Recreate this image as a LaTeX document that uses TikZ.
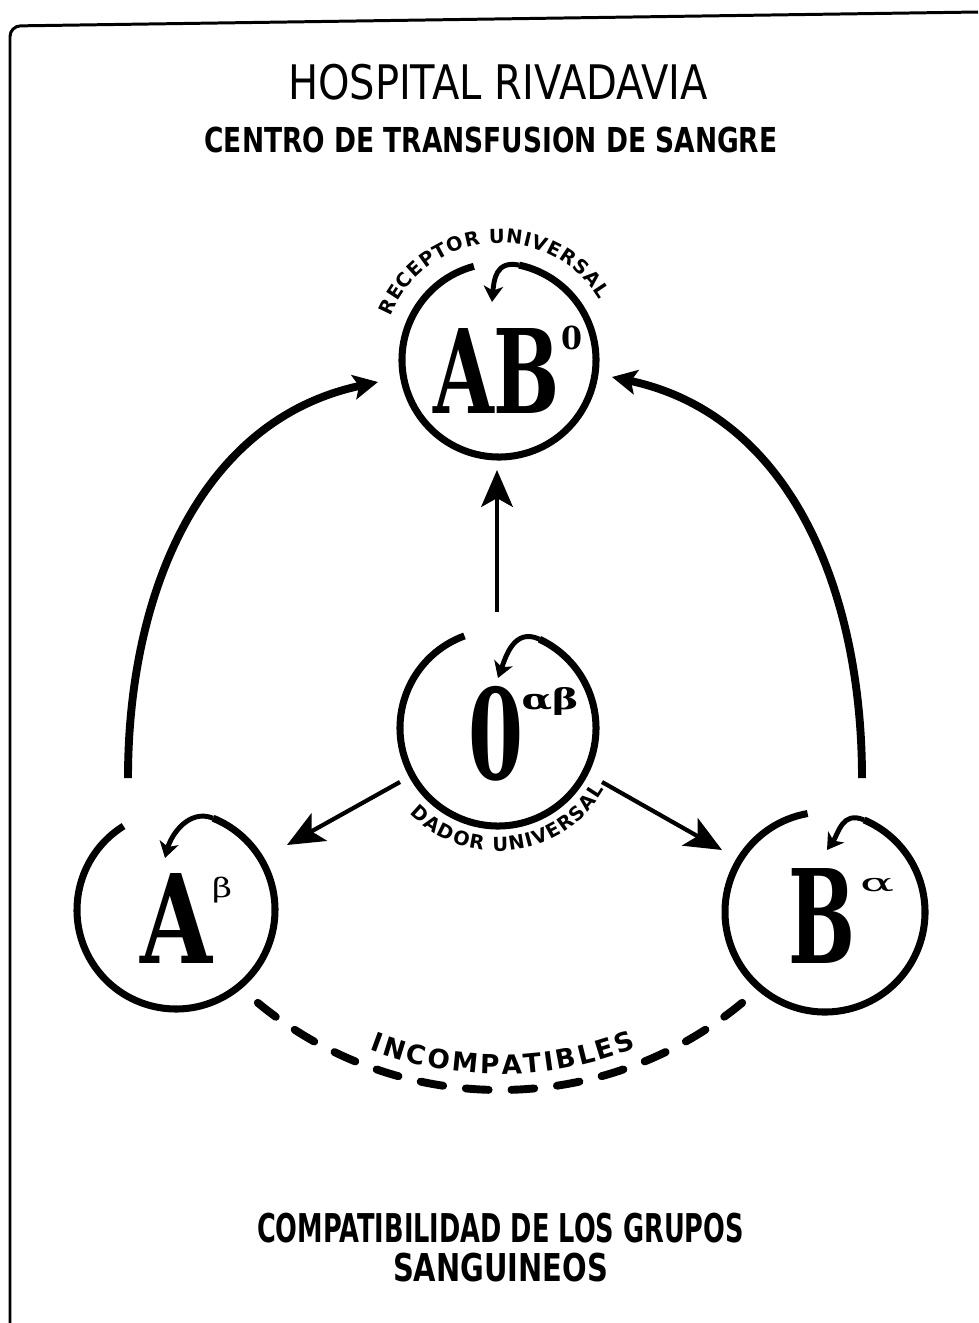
\documentclass[tikz,border=0pt]{standalone}
\usepackage{fontspec}
\usepackage{graphicx}
\usetikzlibrary{arrows.meta,decorations.text,calc}
\newfontfamily\handfont{DejaVu Sans}
\newfontfamily\serfont{DejaVu Serif}
\newcommand{\fitbox}[3]{\resizebox*{#1}{#2}{#3}}
\newcommand{\arcfnt}{\handfont\bfseries\fontsize{11pt}{13pt}\selectfont}
\newcommand{\incfnt}{\handfont\bfseries\fontsize{15pt}{17pt}\selectfont}
\begin{document}
\begin{tikzpicture}[x=0.02cm,y=0.02cm,
  every node/.style={inner sep=0pt,outer sep=0pt},
  ring/.style={line width=4pt},
  curl/.style={line width=2.8pt,-{Stealth[length=9pt,width=11pt,inset=2.5pt]}},
  bigarc/.style={line width=4.5pt,-{Stealth[length=14pt,width=14pt,inset=3pt]}},
  feed/.style={line width=2.4pt,-{Stealth[length=21pt,width=18pt,inset=5pt]}},
  incomp/.style={line width=4.5pt,line cap=round,dash pattern=on 13pt off 13pt},
  frameline/.style={line width=1.7pt,rounded corners=6pt}
]
\useasboundingbox (0,0) rectangle (978,-1323);

% frame
\draw[frameline] (10,-1323) -- (10,-26) -- (978,-12);

% titles
\node (title) at (498,-82) {\fitbox{8.4cm}{0.72cm}{\handfont HOSPITAL RIVADAVIA}};
\node (subtitle) at (491,-140) {\fitbox{11.46cm}{0.52cm}{\handfont\bfseries CENTRO DE TRANSFUSION DE SANGRE}};
\node (cap1) at (500.5,-1228) {\fitbox{9.74cm}{0.6cm}{\handfont\bfseries COMPATIBILIDAD DE LOS GRUPOS}};
\node (cap2) at (500.5,-1268) {\fitbox{4.3cm}{0.58cm}{\handfont\bfseries SANGUINEOS}};

% circle centres
\coordinate (AB) at (499,-360);
\coordinate (O) at (498,-728);
\coordinate (A) at (176,-910);
\coordinate (B) at (825,-912);
\coordinate (IC) at (500,-710);

% rings
\draw[ring] ($(AB)+(105:97)$) arc[start angle=105,end angle=438,radius=97];
\draw[ring] ($(O)+(110:98)$) arc[start angle=110,end angle=425,radius=98];
\draw[ring] ($(A)+(122:99)$) arc[start angle=122,end angle=428,radius=99];
\draw[ring] ($(B)+(100:100)$) arc[start angle=100,end angle=427,radius=100];

% curls
\coordinate (ABc) at ($(AB)+(78:97)$);
\coordinate (ABtip) at (492,-302);
\draw[curl] (ABc) .. controls +(168:24) and +(85:22) .. (ABtip);
\coordinate (Oc) at ($(O)+(65:98)$);
\coordinate (Otip) at (498,-678);
\draw[curl] (Oc) .. controls +(155:28) and +(70:22) .. (Otip);
\coordinate (Ac) at ($(A)+(68:99)$);
\coordinate (Atip) at (165,-858);
\draw[curl] (Ac) .. controls +(158:26) and +(75:24) .. (Atip);
\coordinate (Bc) at ($(B)+(67:100)$);
\coordinate (Btip) at (827,-850);
\draw[curl] (Bc) .. controls +(157:24) and +(55:20) .. (Btip);

% letters
\node (ABt) at (496.5,-370.5) {\fitbox{2.54cm}{1.7cm}{\serfont\bfseries AB}};
\node (ABs) at (572,-338) {\fitbox{0.42cm}{0.48cm}{\serfont\bfseries 0}};
\node (Ot) at (495.5,-734) {\fitbox{1.1cm}{1.9cm}{\serfont\bfseries 0}};
\node (Os) at (550,-701) {\fitbox{1.14cm}{0.56cm}{\serfont\bfseries αβ}};
\node (At) at (176,-918) {\fitbox{1.44cm}{1.8cm}{\serfont\bfseries A}};
\node (As) at (222,-890) {\fitbox{0.4cm}{0.52cm}{\serfont β}};
\node (Bt) at (821.5,-915.5) {\fitbox{1.34cm}{1.9cm}{\serfont\bfseries B}};
\node (Bs) at (877,-885) {\fitbox{0.68cm}{0.28cm}{\serfont α}};

% arc labels
\path[decorate,decoration={text along path,text align={fit to path},text={|\arcfnt|RECEPTOR UNIVERSAL}}]
  ($(AB)+(158:117)$) arc[start angle=158,end angle=31,radius=117];
\path[decorate,decoration={text along path,text align={fit to path},text={|\arcfnt|DADOR UNIVERSAL}}]
  ($(O)+(224:123)$) arc[start angle=224,end angle=330,radius=123];

% big arcs
\coordinate (Lst) at (128,-778);
\coordinate (Ltip) at (378,-382);
\draw[bigarc] (Lst) to[out=90,in=192] (Ltip);
\coordinate (Rst) at (862,-778);
\coordinate (Rtip) at (612,-377);
\draw[bigarc] (Rst) to[out=90,in=-12] (Rtip);

% straight arrows from O
\coordinate (Vst) at (497,-612);
\coordinate (Vtip) at (497,-470);
\draw[feed] (Vst) -- (Vtip);
\coordinate (DLst) at (400,-782);
\coordinate (DLtip) at (287,-845);
\draw[feed] (DLst) -- (DLtip);
\coordinate (DRst) at (602,-782);
\coordinate (DRtip) at (722,-850);
\draw[feed] (DRst) -- (DRtip);

% incompatibles
\coordinate (Ist) at ($(IC)+(230.4:380)$);
\draw[incomp] (Ist) arc[start angle=230.4,end angle=309.6,radius=380];
\path[decorate,decoration={text along path,text align={fit to path},text={|\incfnt|INCOMPATIBLES}}]
  ($(IC)+(249:364)$) arc[start angle=249,end angle=292,radius=364];
\end{tikzpicture}
\end{document}
